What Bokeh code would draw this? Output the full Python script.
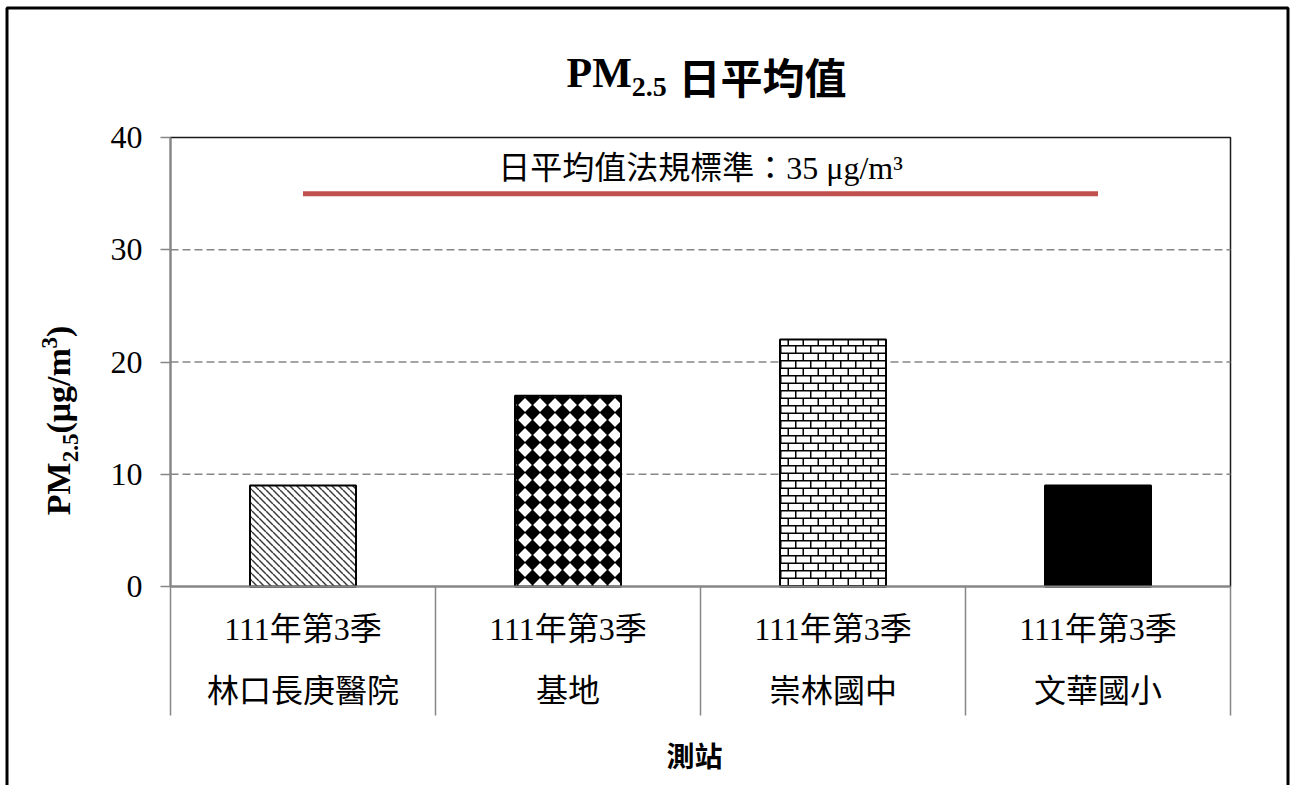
import math

from bokeh.core.properties import value
from bokeh.embed import file_html
from bokeh.models import (BoxAnnotation, CanvasTexture, FixedTicker, Label,
                          LinearAxis, Range1d)
from bokeh.plotting import figure
from bokeh.resources import INLINE

# ---- data -------------------------------------------------------------
periods = ["111年第3季", "111年第3季", "111年第3季", "111年第3季"]
stations = ["林口長庚醫院", "基地", "崇林國中", "文華國小"]
pm25 = [9, 17, 22, 9]
standard = 35
y_ticks = [0, 10, 20, 30, 40]

# ---- layout -----------------------------------------------------------
W, H = 1290, 785
FL, FR, FT, FB = 170, 1230, 137, 586          # plot-area edges on the canvas
SEP = 129                                      # length of the category separators
GRAY = "#868686"
RED = "#C0504D"
SERIF = "Liberation Serif"
CJK = "Noto Sans CJK TC"
MIX = "Liberation Serif, Noto Sans CJK TC"
DROP = 0.45                                    # label anchor drop below the baseline, in em

n = len(stations)
ymin, ymax = y_ticks[0], y_ticks[-1]
positions = [i + 0.5 for i in range(n)]
boundaries = list(range(n + 1))

# the frame covers the whole canvas; the plot area is [0, n] x [ymin, ymax]
xppu = (FR - FL) / n
yppu = (FB - FT) / (ymax - ymin)
p = figure(width=W, height=H, output_backend="svg", toolbar_location=None,
           x_range=Range1d(-FL / xppu, n + (W - FR) / xppu),
           y_range=Range1d(ymin - (H - FB) / yppu, ymax + FT / yppu),
           x_axis_location=None, y_axis_location=None,
           min_border=0, outline_line_color=None,
           background_fill_color="white", border_fill_color="white")
p.title.visible = False
p.grid.visible = False

# ---- fill textures ----------------------------------------------------
diag = CanvasTexture(code="""
ctx.canvas.width = 7; ctx.canvas.height = 7;
const s = 7;
ctx.strokeStyle = '#3a3a3a'; ctx.lineWidth = 1.5;
for (const o of [-s, 0, s]) { ctx.beginPath(); ctx.moveTo(o, 0); ctx.lineTo(o + s, s); ctx.stroke(); }
""")
diamond = CanvasTexture(code="""
ctx.canvas.width = 15; ctx.canvas.height = 15;
const s = 15;
ctx.fillStyle = '#000000';
ctx.beginPath(); ctx.moveTo(s/2, -0.6); ctx.lineTo(s + 0.6, s/2); ctx.lineTo(s/2, s + 0.6); ctx.lineTo(-0.6, s/2);
ctx.closePath(); ctx.fill();
""")
brick = CanvasTexture(code="""
ctx.canvas.width = 15; ctx.canvas.height = 15;
const s = 15; const h = s / 2;
ctx.strokeStyle = '#000000'; ctx.lineWidth = 1.5;
ctx.beginPath();
ctx.moveTo(0, 0.75); ctx.lineTo(s, 0.75);
ctx.moveTo(0, h + 0.75); ctx.lineTo(s, h + 0.75);
ctx.moveTo(0.75, 0); ctx.lineTo(0.75, h);
ctx.moveTo(h + 0.75, h); ctx.lineTo(h + 0.75, s);
ctx.stroke();
""")
textures = {"diag": diag, "diamond": diamond, "brick": brick}
bar_styles = [
    dict(fill_color="white", hatch_pattern="diag", hatch_scale=7),
    dict(fill_color="white", hatch_pattern="diamond", hatch_scale=15),
    dict(fill_color="white", hatch_pattern="brick", hatch_scale=15),
    dict(fill_color="black", hatch_pattern=" ", hatch_scale=15),
]

# ---- plot-area box and gridlines ---------------------------------------
p.add_layout(BoxAnnotation(left=0, right=n, bottom=ymin, top=ymax, level="underlay",
                           fill_color=None, fill_alpha=0,
                           line_color="#1a1a1a", line_alpha=1.0, line_width=1.5))
inner = y_ticks[1:-1]
p.segment(x0=[0] * len(inner), x1=[n] * len(inner), y0=inner, y1=inner,
          line_color=GRAY, line_dash="8 4", line_width=1.5)

# ---- y axis ------------------------------------------------------------
yax = LinearAxis(fixed_location=0, bounds=(ymin, ymax), ticker=FixedTicker(ticks=y_ticks),
                 axis_line_color=GRAY, axis_line_width=2,
                 major_tick_line_color=GRAY, major_tick_line_width=1.5,
                 major_tick_out=10, major_tick_in=0, minor_tick_line_color=None,
                 major_label_text_font=SERIF, major_label_text_font_size="32px",
                 major_label_text_color="black", major_label_standoff=18)
p.add_layout(yax, "left")

# ---- bars ---------------------------------------------------------------
for xpos, val, st in zip(positions, pm25, bar_styles):
    p.vbar(x=[xpos], top=[val], bottom=0, width=0.4,
           fill_color=st["fill_color"], line_color="black", line_width=2,
           hatch_pattern=value(st["hatch_pattern"]), hatch_scale=st["hatch_scale"],
           hatch_extra=textures)

# ---- standard line and its label ----------------------------------------
LINE_FONT = 32
p.line(x=[positions[0], positions[-1]], y=[standard, standard],
       line_color=RED, line_width=5)
p.add_layout(Label(x=(positions[0] + positions[-1]) / 2, y=standard,
                   y_offset=11 + DROP * LINE_FONT,
                   text=f"日平均值法規標準：{standard} μg/m³",
                   text_font=MIX, text_font_size=f"{LINE_FONT}px", text_color="black",
                   text_align="center", text_baseline="alphabetic"))

# ---- category axes (period line, station line, category separators) -----
ax1 = LinearAxis(fixed_location=0, bounds=(0, n),
                 ticker=FixedTicker(ticks=positions, minor_ticks=boundaries),
                 major_label_overrides={x: t for x, t in zip(positions, periods)},
                 axis_line_color=GRAY, axis_line_width=2,
                 major_tick_out=0, major_tick_in=0, major_tick_line_color=None,
                 minor_tick_out=SEP, minor_tick_in=0,
                 minor_tick_line_color=GRAY, minor_tick_line_width=1.5,
                 major_label_text_font=MIX, major_label_text_font_size="32px",
                 major_label_text_color="black", major_label_standoff=24 - SEP)
p.add_layout(ax1, "below")

ax2 = LinearAxis(fixed_location=0, bounds=(0, n), ticker=FixedTicker(ticks=positions),
                 major_label_overrides={x: t for x, t in zip(positions, stations)},
                 axis_line_color=None, major_tick_line_color=None,
                 minor_tick_line_color=None, major_tick_out=0, major_tick_in=0,
                 major_label_text_font=MIX, major_label_text_font_size="32px",
                 major_label_text_color="black", major_label_standoff=86)
p.add_layout(ax2, "below")


# ---- free texts (title, axis titles), placed by baseline in canvas pixels ----
def add_text(txt, cx, cy, size, font, bold=True, angle=0.0, align="left"):
    if angle:
        cx -= DROP * size
    else:
        cy -= DROP * size
    p.add_layout(Label(x=cx, y=H - cy, x_units="screen", y_units="screen",
                       text=txt, text_font=font, text_font_size=f"{size}px",
                       text_font_style="bold" if bold else "normal",
                       text_color="black", angle=angle,
                       text_align=align, text_baseline="alphabetic"))


# Times-compatible bold advance widths (em)
EM = {"P": 0.611, "M": 0.944, "2": 0.5, ".": 0.25, "5": 0.5, "(": 0.333,
      "μ": 0.556, "g": 0.5, "/": 0.278, "m": 0.833, "3": 0.5, ")": 0.333}


def width(txt, size):
    return sum(EM[c] for c in txt) * size


# chart title: PM2.5日平均值
tx = 566
add_text("PM", tx, 91, 42, SERIF)
tx += width("PM", 42)
add_text("2.5", tx, 99, 28, SERIF)
add_text("日平均值", 678, 94, 42, CJK)

# rotated y-axis title: PM2.5(μg/m3)
pieces = [("PM", 34, 0), ("2.5", 23, 7), ("(μg/m", 34, 0), ("3", 23, -14), (")", 34, 0)]
total = sum(width(t, s) for t, s, _ in pieces)
cy = 420 + total / 2
for t, s, shift in pieces:
    add_text(t, 73 + shift, cy, s, SERIF, angle=math.pi / 2)
    cy -= width(t, s)

# x-axis title
add_text("測站", 694, 767, 28, CJK, align="center")

# chart-area border
p.add_layout(BoxAnnotation(left=6.5, right=1287.5, top=H - 7.5, bottom=-20,
                           left_units="screen", right_units="screen",
                           top_units="screen", bottom_units="screen",
                           fill_color=None, fill_alpha=0,
                           line_color="black", line_alpha=1.0, line_width=3))

open("out.html", "w").write(file_html(p, INLINE))
